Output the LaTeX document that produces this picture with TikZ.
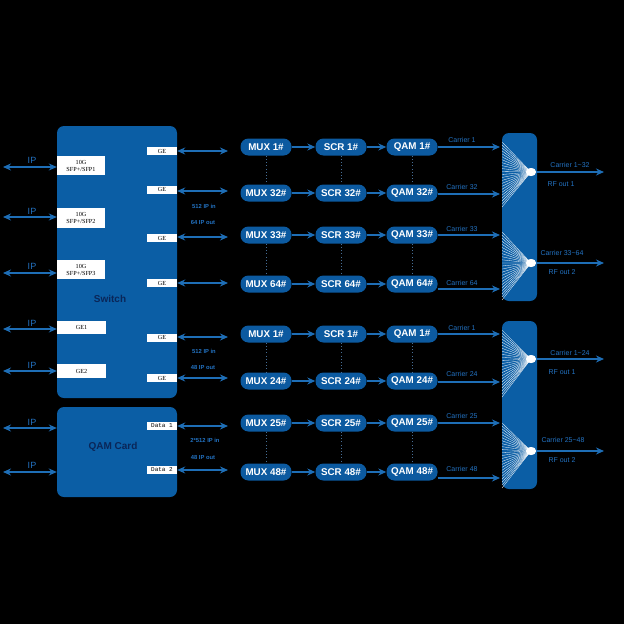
\documentclass[tikz,border=0pt]{standalone}
\usepackage{fontspec}
\setmainfont{Liberation Sans}
\newfontfamily\serifx{Liberation Serif}
\newfontfamily\monox{Liberation Mono}
\usetikzlibrary{arrows.meta,shapes.geometric}
\definecolor{boxblue}{RGB}{11,94,165}
\definecolor{nodeblue}{RGB}{12,90,160}
\definecolor{arrblue}{RGB}{30,110,182}
\definecolor{txtblue}{RGB}{35,115,195}
\definecolor{navy}{RGB}{10,38,88}
\definecolor{dotc}{RGB}{70,110,150}
\begin{document}
\begin{tikzpicture}[x=1pt,y=-1pt,
 bigbox/.style={draw=none, fill=boxblue, rounded corners=7pt, inner sep=0},
 port/.style={fill=white, draw=none, inner sep=0, font=\serifx\fontsize{6.2}{7}\selectfont, text=black, align=center},
 mport/.style={port, font=\monox\fontsize{6}{7}\selectfont},
 proc/.style={fill=nodeblue, rounded corners=8pt, minimum width=51pt, minimum height=17pt, inner sep=0, text=white, font=\bfseries\fontsize{9.8}{11}\selectfont},
 arr/.style={arrblue, line width=1.2pt, -{Stealth[length=8pt,width=7pt]}},
 darr/.style={arrblue, line width=1.2pt, {Stealth[length=8pt,width=7pt]}-{Stealth[length=8pt,width=7pt]}},
 lbl/.style={text=txtblue, font=\fontsize{7}{8}\selectfont, inner sep=0},
 slbl/.style={text=txtblue, font=\bfseries\fontsize{5.8}{6.5}\selectfont, inner sep=0},
 iplbl/.style={text=txtblue, font=\fontsize{9}{10}\selectfont, inner sep=0},
 dotl/.style={dotc, dash pattern=on 1pt off 2.2pt, line width=0.8pt},
 fanl/.style={white, line width=0.3pt},
 dotn/.style={ellipse, fill=white, minimum width=10pt, minimum height=8pt, inner sep=0},
]
\fill[black] (0,0) rectangle (624,624);
\useasboundingbox (0,0) rectangle (624,624);

% big boxes
\node[bigbox, minimum width=120pt, minimum height=272pt] (sw) at (117,262) {};
\node[text=navy, font=\bfseries\fontsize{10}{11}\selectfont] (swl) at (110,299) {Switch};
\node[bigbox, minimum width=120pt, minimum height=90pt] (qc) at (117,452) {};
\node[text=navy, font=\bfseries\fontsize{10}{11}\selectfont] (qcl) at (113,447) {QAM Card};
\node[bigbox, minimum width=35pt, minimum height=168pt] (cb1) at (519.5,217) {};
\node[bigbox, minimum width=35pt, minimum height=168pt] (cb2) at (519.5,405) {};

% left ports
\node[port, minimum width=48pt, minimum height=19pt] (sfp1) at (81,165.5) {10G\\SFP+/SFP1};
\node[port, minimum width=48pt, minimum height=20pt] (sfp2) at (81,218) {10G\\SFP+/SFP2};
\node[port, minimum width=48pt, minimum height=19pt] (sfp3) at (81,269.5) {10G\\SFP+/SFP3};
\node[port, minimum width=49pt, minimum height=13pt] (ge1) at (81.5,327.5) {GE1};
\node[port, minimum width=49pt, minimum height=14pt] (ge2) at (81.5,371) {GE2};

% right ports
\foreach \n/\y in {ga/151,gb/189.5,gc/238,gd/283,ge/337.5,gf/378}
  \node[port, minimum width=30pt, minimum height=8pt] (\n) at (162,\y) {GE};
\node[mport, minimum width=30pt, minimum height=8pt] (da) at (162,425.5) {Data 1};
\node[mport, minimum width=30pt, minimum height=8pt] (db) at (162,470) {Data 2};

% IP arrows (left)
\foreach \n/\y/\t in {sfp1/167/160, sfp2/217/211, sfp3/273/266, ge1/329/323, ge2/371/365}{
  \coordinate (L\n) at (3,\y);
  \draw[darr] (L\n) -- (\n.west |- L\n);
  \node[iplbl] at (32,\t) {IP};
}
\coordinate (Lqa) at (3,428);
\coordinate (Lqb) at (3,472);
\draw[darr] (Lqa) -- (qc.west |- Lqa);
\draw[darr] (Lqb) -- (qc.west |- Lqb);
\node[iplbl] (ipq1) at (32,422) {IP};
\node[iplbl] (ipq2) at (32,465) {IP};

% right double arrows
\foreach \n/\y in {ga/151,gb/191,gc/237,gd/283,ge/337,gf/378,da/426,db/470}{
  \coordinate (R\n) at (228,\y);
  \draw[darr] (\n.east |- R\n) -- (R\n);
}
\node[slbl] (t1) at (204,206) {512 IP in};
\node[slbl] (t2) at (203,222) {64 IP out};
\node[slbl] (t3) at (204,351) {512 IP in};
\node[slbl] (t4) at (203,367) {48 IP out};
\node[slbl] (t5) at (205,440) {2*512 IP in};
\node[slbl] (t6) at (203,457) {48 IP out};

% processing chains
\newcommand\chain[5]{% id, label, y, carrier y, carrier label y
  \node[proc] (m#1) at (266,#3) {MUX #2\#};
  \node[proc] (s#1) at (341,#3) {SCR #2\#};
  \node[proc] (q#1) at (412,#3) {QAM #2\#};
  \draw[arr] (m#1) -- (s#1);
  \draw[arr] (s#1) -- (q#1);
  \coordinate (c#1) at (500,#4);
  \draw[arr] (q#1.east |- c#1) -- (c#1);
  \node[lbl] at (462,#5) {Carrier #2};
}
\chain{a}{1}{147}{147}{140}
\chain{b}{32}{193}{194}{187}
\chain{c}{33}{235}{235}{229}
\chain{d}{64}{284}{289}{283}
\chain{e}{1}{334}{334}{328}
\chain{f}{24}{381}{382}{374}
\chain{g}{25}{423}{423}{416}
\chain{h}{48}{472}{478}{469}

% dotted verticals
\foreach \a/\b in {a/b,c/d,e/f,g/h}{
  \draw[dotl] (m\a.south) -- (m\b.north);
  \draw[dotl] (s\a.south) -- (s\b.north);
  \draw[dotl] (q\a.south) -- (q\b.north);
}

% combiner dots and fans
\node[dotn] (e1) at (531,172) {};
\node[dotn] (e2) at (531,263) {};
\node[dotn] (e3) at (531,359) {};
\node[dotn] (e4) at (531,451) {};
\foreach \e/\ya/\yb in {e1/142/207, e2/232/300, e3/330/397, e4/423/488}{
  \foreach \i in {0,...,22}{
    \draw[fanl] (\e.center) -- (502,{\ya+(\yb-\ya)*\i/22});
  }
}
\node[dotn] at (531,172) {};
\node[dotn] at (531,263) {};
\node[dotn] at (531,359) {};
\node[dotn] at (531,451) {};

% outputs
\foreach \e/\y in {e1/172,e2/263,e3/359,e4/451}{
  \coordinate (o\e) at (604,\y);
  \draw[arr] (\e.east) -- (o\e);
}
\node[lbl] (ol1) at (570,165) {Carrier 1\char"007E 32};
\node[lbl] (rf1) at (561,184) {RF out 1};
\node[lbl] (ol2) at (562,253) {Carrier 33\char"007E 64};
\node[lbl] (rf2) at (562,272) {RF out 2};
\node[lbl] (ol3) at (570,353) {Carrier 1\char"007E 24};
\node[lbl] (rf3) at (562,372) {RF out 1};
\node[lbl] (ol4) at (563,440) {Carrier 25\char"007E 48};
\node[lbl] (rf4) at (562,460) {RF out 2};
\end{tikzpicture}
\end{document}
